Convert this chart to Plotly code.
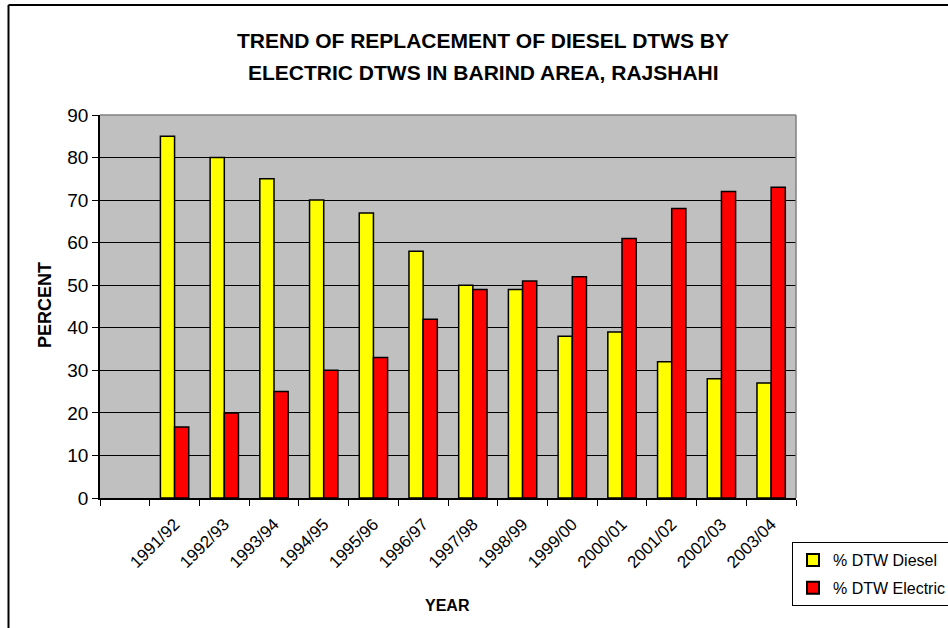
import plotly.graph_objects as go

years = ["1991/92", "1992/93", "1993/94", "1994/95", "1995/96", "1996/97", "1997/98",
         "1998/99", "1999/00", "2000/01", "2001/02", "2002/03", "2003/04"]
diesel = [85, 80, 75, 70, 67, 58, 50, 49, 38, 39, 32, 28, 27]
electric = [16.7, 20, 25, 30, 33, 42, 49, 51, 52, 61, 68, 72, 73]
y_ticks = [0, 10, 20, 30, 40, 50, 60, 70, 80, 90]
categories = [" "] + years
title_lines = ["TREND OF REPLACEMENT OF DIESEL DTWS BY", "ELECTRIC DTWS IN BARIND AREA, RAJSHAHI"]

W, H = 948, 628
L, R, T, B = 100, 152, 115, 130
pw, ph = W - L - R, H - T - B

def px_x(x):
    return (x - L) / pw

def px_y(y):
    return (H - B - y) / ph

fig = go.Figure()
fig.add_trace(go.Bar(x=years, y=diesel, name="% DTW Diesel", legendgroup="d",
                     marker=dict(color="#FFFF00", line=dict(color="black", width=1.5))))
fig.add_trace(go.Bar(x=years, y=electric, name="% DTW Electric", legendgroup="e",
                     marker=dict(color="#FF0000", line=dict(color="black", width=1.5))))

font = "Liberation Sans, Arial, sans-serif"
annotations = []
for line, yc in zip(title_lines, [41, 72]):
    annotations.append(dict(text="<b>" + line + "</b>", x=px_x(483), y=px_y(yc),
                            xref="paper", yref="paper", showarrow=False,
                            font=dict(size=21, family=font), xanchor="center", yanchor="middle"))
annotations += [
    dict(text="<b>PERCENT</b>", x=px_x(45), y=px_y(305), xref="paper", yref="paper",
         showarrow=False, textangle=-90, font=dict(size=18, family=font),
         xanchor="center", yanchor="middle"),
    dict(text="<b>YEAR</b>", x=px_x(447), y=px_y(605), xref="paper", yref="paper",
         showarrow=False, font=dict(size=16, family=font),
         xanchor="center", yanchor="middle"),
]

fig.update_layout(
    width=W, height=H,
    margin=dict(l=L, r=R, t=T, b=B, autoexpand=False),
    paper_bgcolor="white", plot_bgcolor="#C0C0C0",
    barmode="group", bargap=0.43, bargroupgap=0,
    font=dict(family=font, size=17, color="black"),
    showlegend=True,
    legend=dict(x=px_x(792), y=px_y(542), xanchor="left", yanchor="top",
                bgcolor="white", bordercolor="black", borderwidth=1,
                font=dict(size=16), itemsizing="constant",
                traceorder="grouped", tracegroupgap=4),
    annotations=annotations,
    shapes=[
        dict(type="line", xref="paper", yref="paper", x0=px_x(8.5), x1=px_x(8.5),
             y0=px_y(5), y1=px_y(640), line=dict(color="black", width=2)),
        dict(type="line", xref="paper", yref="paper", x0=px_x(8.5), x1=px_x(960),
             y0=px_y(5), y1=px_y(5), line=dict(color="black", width=2)),
        dict(type="line", xref="paper", yref="paper", x0=0, x1=1, y0=1, y1=1,
             line=dict(color="#808080", width=1.5)),
        dict(type="line", xref="paper", yref="paper", x0=1, x1=1, y0=0, y1=1,
             line=dict(color="#808080", width=1.5)),
    ],
)
fig.update_xaxes(type="category", categoryorder="array", categoryarray=categories,
                 range=[-0.5, len(categories) - 0.5], tickson="boundaries",
                 ticks="outside", ticklen=6, tickcolor="black", tickangle=-45,
                 showline=True, linecolor="black", linewidth=1.5, showgrid=False,
                 tickfont=dict(size=17), ticklabelstandoff=8, fixedrange=True)
fig.update_yaxes(range=[0, 90], tickvals=y_ticks, ticks="outside", ticklen=6,
                 tickcolor="black", showline=True, linecolor="black", linewidth=1.5,
                 showgrid=True, gridcolor="black", gridwidth=1, zeroline=False,
                 tickfont=dict(size=19), fixedrange=True)

fig.write_html("out.html")
